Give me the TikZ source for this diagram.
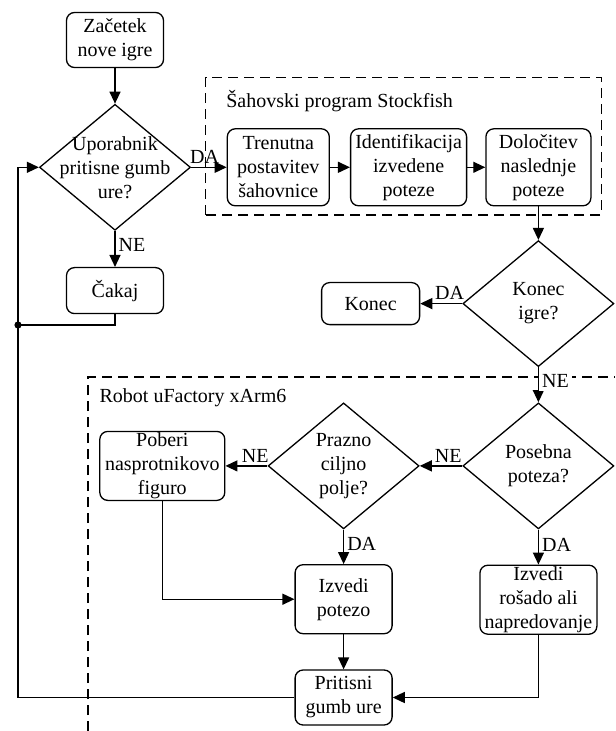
\documentclass[tikz,border=0pt]{standalone}
\usepackage{fontspec}
\setmainfont{Liberation Serif}
\usepackage{tikz}
\usetikzlibrary{positioning,arrows.meta,shapes.geometric,calc}

\begin{document}
\begin{tikzpicture}[
  font=\fontsize{10}{12}\selectfont,
  line width=0.65pt,
  box/.style={rectangle, draw, rounded corners=4pt, align=center,
              inner xsep=1.5pt, inner ysep=0.5pt, minimum width=48.5pt, minimum height=34.5pt},
  decision/.style={diamond, draw, align=center, aspect=1.2, inner sep=-8pt,
                   minimum width=75.5pt, minimum height=63pt},
  group/.style={draw, dash pattern=on 5pt off 3pt, line width=0.6pt},
  grouplabel/.style={anchor=west, inner sep=0pt},
  arr/.style={-{Triangle[length=6pt,width=5.5pt]}},
  lbl/.style={inner sep=1.5pt}
]
\useasboundingbox (0,0) rectangle (307.5pt,-365.5pt);

% left column
\node[box, minimum height=27.5pt] (start) at (57.5pt,-20pt) {Začetek\\nove igre};
\node[decision, below=17.75pt of start] (upor) {Uporabnik\\pritisne gumb\\ure?};
\node[box, minimum height=23pt, below=18pt of upor] (cakaj) {Čakaj};
\coordinate (loop) at (9pt,-162.5pt);

% Stockfish
\node[box, minimum width=51pt, minimum height=38.5pt, right=17.75pt of upor] (tren) {Trenutna\\postavitev\\šahovnice};
\node[box, minimum width=58pt, minimum height=38.5pt, right=10pt of tren] (ident) {Identifikacija\\izvedene\\poteze};
\node[box, minimum width=52.5pt, minimum height=38.5pt, right=9pt of ident] (dolo) {Določitev\\naslednje\\poteze};
\node[grouplabel] (sflabel) at ($(tren.north west)+(-0.5pt,13.5pt)$) {Šahovski program Stockfish};
\draw[group] ($(tren.south west)+(-10.5pt,-4.25pt)$) rectangle ($(dolo.north east)+(5pt,25.25pt)$);

\node[decision, below=16.75pt of dolo] (konecigre) {Konec\\igre?};
\node[box, minimum width=49pt, minimum height=21pt, left=21pt of konecigre] (konec) {Konec};

% robot
\node[decision, below=17.5pt of konecigre] (posebna) {Posebna\\poteza?};
\node[decision, left=21.25pt of posebna] (prazno) {Prazno\\ciljno\\polje?};
\node[box, minimum width=62.5pt, left=21pt of prazno] (poberi) {Poberi\\nasprotnikovo\\figuro};
\node[box, below=17.25pt of prazno] (izvedi) {Izvedi\\potezo};
\node[box, minimum width=58.5pt, below=17.5pt of posebna] (rosado) {Izvedi\\rošado ali\\napredovanje};
\node[box, minimum height=27.5pt, below=17.5pt of izvedi] (pritisni) {Pritisni\\gumb ure};
\coordinate (rbl) at (44pt,-365.5pt);
\coordinate (rtr) at (307.5pt,-188.5pt);
\draw[group] (rbl) |- (rtr);
\node[grouplabel] (rlabel) at (49.5pt,-199pt) {Robot uFactory xArm6};

% connectors
\draw[arr] (start) -- (upor);
\draw[arr] (upor) -- node[lbl, right, pos=0.4] {NE} (cakaj);
\draw[arr] (upor) -- node[lbl, above, pos=0.38] {DA} (tren);
\draw[arr] (tren) -- (ident);
\draw[arr] (ident) -- (dolo);
\draw[arr] (dolo) -- (konecigre);
\draw[arr] (konecigre) -- node[lbl, above, pos=0.3] {DA} (konec);
\draw[arr] (konecigre) -- node[lbl, right, pos=0.4, fill=white] {NE} (posebna);
\draw[arr] (posebna) -- node[lbl, above, pos=0.33] {NE} (prazno);
\draw[arr] (prazno) -- node[lbl, above, pos=0.29] {NE} (poberi);
\draw[arr] (prazno) -- node[lbl, right, pos=0.43] {DA} (izvedi);
\draw[arr] (posebna) -- node[lbl, right, pos=0.43] {DA} (rosado);
\draw[arr] (poberi.south) |- (izvedi.west);
\draw[arr] (izvedi) -- (pritisni);
\draw[arr] (rosado.south) |- (pritisni.east);
\draw (cakaj.south) |- (loop);
\draw[arr] (pritisni.west) -| (loop) |- (upor.west);
\fill (loop) circle (1.8pt);

\end{tikzpicture}
\end{document}
